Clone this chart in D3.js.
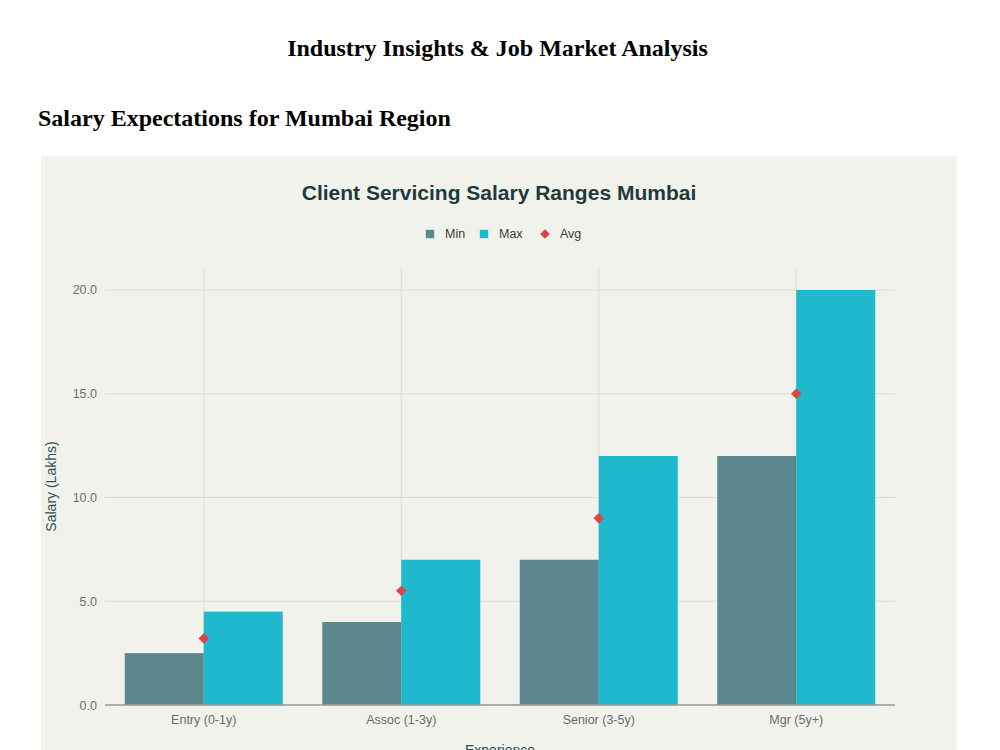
<!DOCTYPE html>
<html>
<head>
<meta charset="utf-8">
<script src="https://cdn.jsdelivr.net/npm/d3@7"></script>
<style>
  body { margin: 0; background: #fff; width: 1000px; height: 750px; overflow: hidden; }
  h1, h2 { font-family: "Liberation Serif", "DejaVu Serif", serif; font-weight: bold; margin: 0; position: absolute; }
  h1 { font-size: 24px; top: 35px; left: 0; width: 995px; text-align: center; }
  h2 { font-size: 24px; top: 105px; left: 38px; }
  svg { position: absolute; left: 41px; top: 156px; }
</style>
</head>
<body>
<h1>Industry Insights &amp; Job Market Analysis</h1>
<h2>Salary Expectations for Mumbai Region</h2>
<svg width="916" height="600"></svg>
<script>
const categories = ["Entry (0-1y)", "Assoc (1-3y)", "Senior (3-5y)", "Mgr (5y+)"];
const minVals = [2.5, 4, 7, 12];
const maxVals = [4.5, 7, 12, 20];
const avgVals = [3.2, 5.5, 9, 15];
const yTicks = [0, 5, 10, 15, 20];

var svg = d3.select("svg"),
    width = +svg.attr("width"),
    height = +svg.attr("height");

svg.append("rect")
   .attr("width", width)
   .attr("height", height)
   .attr("fill", "#f2f2ed");

// plot area in svg coords
const pLeft = 64, pRight = 854, pTop = 112, pBottom = 549;

var x = d3.scaleBand()
          .domain(categories)
          .range([pLeft, pRight])
          .paddingInner(0.2)
          .paddingOuter(0.1);

var sub = d3.scaleBand()
            .domain(["min", "max"])
            .range([0, x.bandwidth()]);

var y = d3.scaleLinear()
          .domain([0, 21.06])
          .range([pBottom, pTop]);

var font = "'Liberation Sans', Arial, sans-serif";

// grid
svg.append("g")
   .selectAll("line")
   .data(yTicks)
   .enter().append("line")
   .attr("x1", pLeft).attr("x2", pRight)
   .attr("y1", d => y(d)).attr("y2", d => y(d))
   .attr("stroke", "#dcdcd6")
   .attr("stroke-width", 1);

svg.append("g")
   .selectAll("line")
   .data(categories)
   .enter().append("line")
   .attr("x1", d => x(d) + x.bandwidth() / 2)
   .attr("x2", d => x(d) + x.bandwidth() / 2)
   .attr("y1", pTop).attr("y2", pBottom)
   .attr("stroke", "#dcdcd6")
   .attr("stroke-width", 1);

// bars
var groups = svg.append("g")
                .selectAll("g")
                .data(categories)
                .enter().append("g")
                .attr("transform", d => `translate(${x(d)},0)`);

groups.append("rect")
      .attr("x", sub("min"))
      .attr("width", sub.bandwidth())
      .attr("y", (d, i) => y(minVals[i]))
      .attr("height", (d, i) => y(0) - y(minVals[i]))
      .attr("fill", "#5d878f");

groups.append("rect")
      .attr("x", sub("max"))
      .attr("width", sub.bandwidth())
      .attr("y", (d, i) => y(maxVals[i]))
      .attr("height", (d, i) => y(0) - y(maxVals[i]))
      .attr("fill", "#1fb8cd");

// avg markers
svg.append("g")
   .selectAll("path")
   .data(categories)
   .enter().append("path")
   .attr("d", d3.symbol().type(d3.symbolDiamond2).size(70))
   .attr("transform", (d, i) => `translate(${x(d) + x.bandwidth() / 2},${y(avgVals[i])})`)
   .attr("fill", "#db4545");

// zero line
svg.append("line")
   .attr("x1", pLeft).attr("x2", pRight)
   .attr("y1", y(0)).attr("y2", y(0))
   .attr("stroke", "#9a9a9a")
   .attr("stroke-width", 1.5);

// axes
var yAxis = svg.append("g")
               .attr("transform", `translate(${pLeft},0)`)
               .call(d3.axisLeft(y).tickValues(yTicks).tickFormat(d3.format(".1f")).tickSize(0).tickPadding(8));
yAxis.select(".domain").remove();
yAxis.selectAll("text")
     .attr("font-family", font)
     .attr("font-size", 12.5)
     .attr("fill", "#6b6b6b");

var xAxis = svg.append("g")
               .attr("transform", `translate(0,${pBottom})`)
               .call(d3.axisBottom(x).tickSize(0).tickPadding(10));
xAxis.select(".domain").remove();
xAxis.selectAll("text")
     .attr("font-family", font)
     .attr("font-size", 12.5)
     .attr("fill", "#6b6b6b");

// titles
svg.append("text")
   .attr("x", width / 2)
   .attr("y", 44)
   .attr("text-anchor", "middle")
   .attr("font-family", font)
   .attr("font-size", 21)
   .attr("font-weight", "bold")
   .attr("fill", "#1f3a3d")
   .text("Client Servicing Salary Ranges Mumbai");

svg.append("text")
   .attr("transform", `translate(15,${(pTop + pBottom) / 2}) rotate(-90)`)
   .attr("text-anchor", "middle")
   .attr("font-family", font)
   .attr("font-size", 14)
   .attr("fill", "#2f4f55")
   .text("Salary (Lakhs)");

svg.append("text")
   .attr("x", (pLeft + pRight) / 2)
   .attr("y", 599)
   .attr("text-anchor", "middle")
   .attr("font-family", font)
   .attr("font-size", 14)
   .attr("fill", "#2f4f55")
   .text("Experience");

// legend
var legend = [
  {name: "Min", color: "#5d878f", shape: "square", x: 389},
  {name: "Max", color: "#1fb8cd", shape: "square", x: 443},
  {name: "Avg", color: "#db4545", shape: "diamond", x: 504}
];
var lg = svg.append("g")
            .selectAll("g")
            .data(legend)
            .enter().append("g")
            .attr("transform", d => `translate(${d.x},78)`);
lg.append("path")
  .attr("d", d => d.shape === "square"
      ? d3.symbol().type(d3.symbolSquare).size(70)()
      : d3.symbol().type(d3.symbolDiamond2).size(60)())
  .attr("fill", d => d.color);
lg.append("text")
  .attr("x", 15)
  .attr("dy", "0.35em")
  .attr("font-family", font)
  .attr("font-size", 12.5)
  .attr("fill", "#3a3a3a")
  .text(d => d.name);
</script>
</body>
</html>
